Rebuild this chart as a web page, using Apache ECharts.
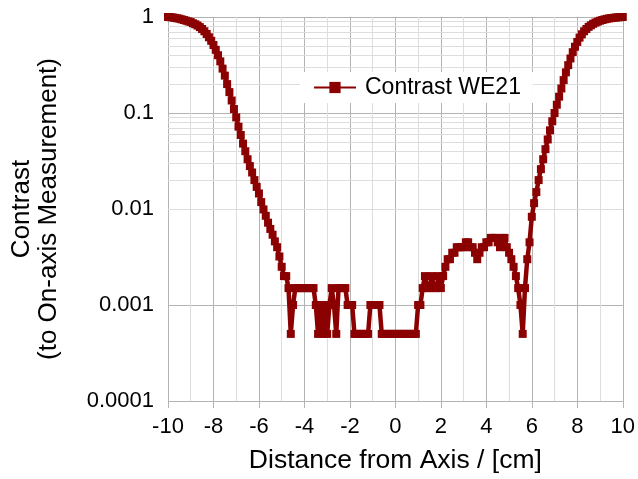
<!DOCTYPE html>
<html><head><meta charset="utf-8">
<script src="https://cdn.jsdelivr.net/npm/echarts@6/dist/echarts.min.js"></script>
<style>html,body{margin:0;padding:0;background:#fff}#c{width:638px;height:479px}</style>
</head><body><div id="c"></div>
<script>
// Distance from axis [cm]
const distance = [
-10.0,-9.9,-9.8,-9.7,-9.6,-9.5,-9.4,-9.3,-9.2,-9.1,
-9.0,-8.9,-8.8,-8.7,-8.6,-8.5,-8.4,-8.3,-8.2,-8.1,
-8.0,-7.9,-7.8,-7.7,-7.6,-7.5,-7.4,-7.3,-7.2,-7.1,
-7.0,-6.9,-6.8,-6.7,-6.6,-6.5,-6.4,-6.3,-6.2,-6.1,
-6.0,-5.9,-5.8,-5.7,-5.6,-5.5,-5.4,-5.3,-5.2,-5.1,
-5.0,-4.9,-4.8,-4.7,-4.6,-4.5,-4.4,-4.3,-4.2,-4.1,
-4.0,-3.9,-3.8,-3.7,-3.6,-3.5,-3.4,-3.3,-3.2,-3.1,
-3.0,-2.9,-2.8,-2.7,-2.6,-2.5,-2.4,-2.3,-2.2,-2.1,
-2.0,-1.9,-1.8,-1.7,-1.6,-1.5,-1.4,-1.3,-1.2,-1.1,
-1.0,-0.9,-0.8,-0.7,-0.6,-0.5,-0.4,-0.3,-0.2,-0.1,
0.0,0.1,0.2,0.3,0.4,0.5,0.6,0.7,0.8,0.9,
1.0,1.1,1.2,1.3,1.4,1.5,1.6,1.7,1.8,1.9,
2.0,2.1,2.2,2.3,2.4,2.5,2.6,2.7,2.8,2.9,
3.0,3.1,3.2,3.3,3.4,3.5,3.6,3.7,3.8,3.9,
4.0,4.1,4.2,4.3,4.4,4.5,4.6,4.7,4.8,4.9,
5.0,5.1,5.2,5.3,5.4,5.5,5.6,5.7,5.8,5.9,
6.0,6.1,6.2,6.3,6.4,6.5,6.6,6.7,6.8,6.9,
7.0,7.1,7.2,7.3,7.4,7.5,7.6,7.7,7.8,7.9,
8.0,8.1,8.2,8.3,8.4,8.5,8.6,8.7,8.8,8.9,
9.0,9.1,9.2,9.3,9.4,9.5,9.6,9.7,9.8,9.9,10.0
];
// Contrast (to on-axis measurement), series "Contrast WE21"
const contrastWE21 = [
1.00,0.995,0.99,0.98,0.97,0.96,0.945,0.93,0.915,0.90,
0.885,0.86,0.84,0.815,0.785,0.75,0.71,0.665,0.615,0.565,
0.51,0.455,0.40,0.345,0.29,0.245,0.20,0.165,0.135,0.11,
0.09,0.072,0.059,0.048,0.040,0.033,0.028,0.024,0.020,0.017,
0.0145,0.0118,0.0099,0.0085,0.0072,0.0062,0.0054,0.0046,0.004,0.0032,
0.0025,0.002,0.002,0.0015,0.0005,0.001,0.0015,0.0015,0.0015,0.0015,
0.0015,0.0015,0.0015,0.0015,0.0015,0.001,0.0005,0.001,0.0005,0.001,
0.0005,0.001,0.0015,0.001,0.0005,0.0015,0.0015,0.0015,0.0015,0.001,
0.001,0.001,0.0005,0.0005,0.0005,0.0005,0.0005,0.0005,0.0005,0.001,
0.001,0.001,0.001,0.001,0.0005,0.0005,0.0005,0.0005,0.0005,0.0005,
0.0005,0.0005,0.0005,0.0005,0.0005,0.0005,0.0005,0.0005,0.0005,0.0005,
0.001,0.001,0.0015,0.002,0.0015,0.0015,0.002,0.0015,0.0015,0.002,
0.0015,0.002,0.0025,0.003,0.003,0.0035,0.0035,0.004,0.004,0.004,
0.004,0.0045,0.0045,0.004,0.004,0.0035,0.003,0.0035,0.004,0.004,
0.0045,0.0045,0.005,0.005,0.005,0.0045,0.004,0.005,0.005,0.004,
0.0035,0.003,0.0025,0.002,0.0015,0.001,0.0005,0.0015,0.003,0.0045,
0.0083,0.0115,0.015,0.020,0.026,0.033,0.042,0.053,0.066,0.082,
0.10,0.122,0.148,0.18,0.22,0.265,0.315,0.37,0.43,0.49,
0.55,0.61,0.66,0.71,0.75,0.79,0.82,0.85,0.875,0.895,
0.915,0.93,0.945,0.957,0.967,0.975,0.982,0.988,0.993,0.997,1.0
];
const seriesName = 'Contrast WE21';
const yTickLabels = ['0.0001','0.001','0.01','0.1','1'];

const FONT = '"Liberation Sans", Arial, sans-serif';
const MAJOR = '#b3b3b3', MINOR = '#dddddd', RED = '#8b0000';

// minor horizontal grid lines of the log axis (2..9 in each decade)
const minorY = [];
for (let d = -4; d < 0; d++) {
  for (let m = 2; m <= 9; m++) minorY.push({ yAxis: +(m * Math.pow(10, d)).toPrecision(3) });
}

const chart = echarts.init(document.getElementById('c'), null, { renderer: 'canvas' });
chart.setOption({
  animation: false,
  backgroundColor: '#fff',
  grid: { left: 167, right: 15, top: 17, bottom: 77, containLabel: false },
  legend: {
    data: [seriesName], left: 300, top: 72, z: 20,
    backgroundColor: '#fff', padding: [4, 12, 4, 13],
    itemWidth: 42, itemHeight: 14,
    textStyle: { fontSize: 23, color: '#000', fontFamily: FONT, padding: [0, 0, 0, 4] }
  },
  xAxis: {
    type: 'value', min: -10, max: 10, interval: 2,
    axisLine: { show: false },
    axisTick: { show: true, length: 7, lineStyle: { color: MAJOR } },
    axisLabel: { fontSize: 22, color: '#000', margin: 15, fontFamily: FONT },
    splitLine: { show: true, lineStyle: { color: MAJOR, width: 1 } },
    minorTick: { show: false, splitNumber: 2 },
    minorSplitLine: { show: true, lineStyle: { color: MINOR, width: 1 } },
    name: 'Distance from Axis / [cm]', nameLocation: 'middle', nameGap: 46,
    nameTextStyle: { fontSize: 26.5, color: '#000', fontFamily: FONT }
  },
  yAxis: {
    type: 'log', logBase: 10, min: 0.0001, max: 1,
    axisLine: { show: false },
    axisTick: { show: true, length: 7, lineStyle: { color: MAJOR } },
    axisLabel: {
      fontSize: 22, color: '#000', margin: 14, fontFamily: FONT,
      formatter: v => yTickLabels[Math.round(Math.log10(v)) + 4]
    },
    splitLine: { show: true, lineStyle: { color: MAJOR, width: 1 } },
    name: 'Contrast\n(to On-axis Measurement)', nameLocation: 'middle', nameGap: 106,
    nameRotate: 90,
    nameTextStyle: { fontSize: 26, lineHeight: 27, color: '#000', fontFamily: FONT }
  },
  series: [
    {
      type: 'line', data: [], silent: true, z: 1,
      markLine: {
        silent: true, symbol: 'none', label: { show: false }, animation: false, z: 1,
        lineStyle: { color: MINOR, type: 'solid', width: 1 },
        emphasis: { disabled: true },
        data: minorY
      }
    },
    {
      name: seriesName, type: 'line', z: 3,
      data: distance.map((x, i) => [x, contrastWE21[i]]),
      symbol: 'rect', symbolSize: 8, showAllSymbol: true,
      lineStyle: { color: RED, width: 4.5, join: 'round' },
      itemStyle: { color: RED }
    }
  ]
});
</script>
</body></html>
